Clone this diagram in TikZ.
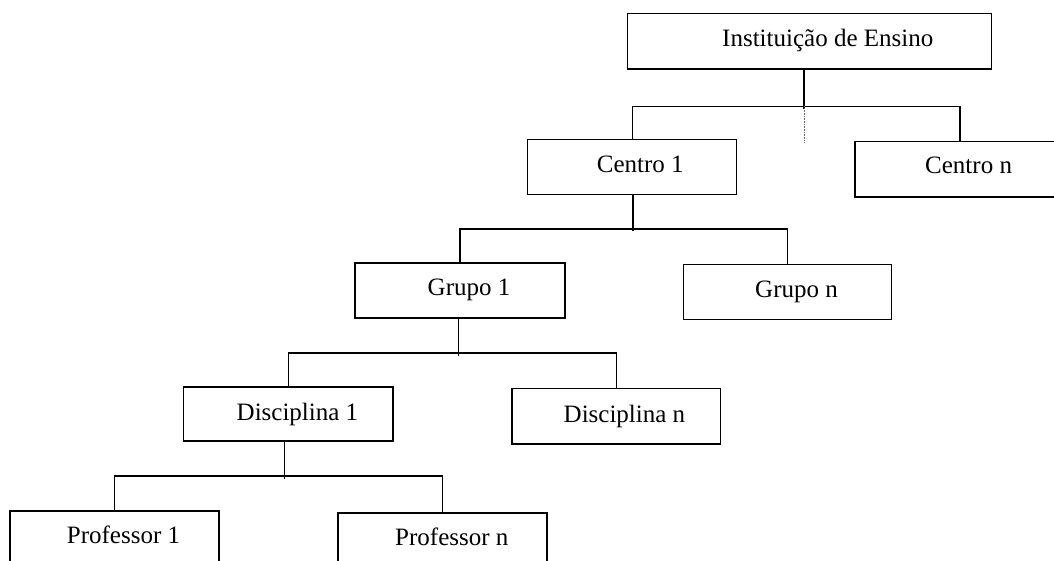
\documentclass[tikz,border=0pt]{standalone}
\usepackage{fontspec}
\setmainfont{Liberation Serif}
\begin{document}
\begin{tikzpicture}[x=1pt, y=-1pt,
  unit/.style={draw, line width=1.4pt, inner sep=0pt, outer sep=0pt, anchor=north west},
  lbl/.style={inner sep=0pt, anchor=base west, font=\fontsize{25}{30}\selectfont},
  link/.style={line width=1.4pt},
  hint/.style={densely dotted, line width=0.6pt, black!55}]
  % page frame
  \clip (0,0) rectangle (1054,561);
  \fill[white] (0,0) rectangle (1054,561);

  % boxes of the hierarchy
  \node[unit, minimum width=364pt, minimum height=55.7pt] (inst) at (627.7,13.3) {};
  \node[unit, minimum width=209pt, minimum height=54.8pt] (c1)   at (527.7,139.5) {};
  \node[unit, minimum width=210pt, minimum height=55.7pt] (cn)   at (855,141.5) {};
  \node[unit, minimum width=210pt, minimum height=55pt]   (g1)   at (355,263) {};
  \node[unit, minimum width=208.2pt, minimum height=55pt] (gn)   at (683.5,264.5) {};
  \node[unit, minimum width=209.5pt, minimum height=54pt] (d1)   at (183.5,387) {};
  \node[unit, minimum width=208.5pt, minimum height=55.5pt] (dn) at (512,388.5) {};
  \node[unit, minimum width=209pt, minimum height=60pt]   (p1)   at (10,511) {};
  \node[unit, minimum width=209pt, minimum height=60pt]   (pn)   at (338,513) {};

  % box texts
  \node[lbl] (inst-t) at (722,46.7)  {Instituição de Ensino};
  \node[lbl] (c1-t)   at (596.7,172.3) {Centro 1};
  \node[lbl] (cn-t)   at (925,174)   {Centro n};
  \node[lbl] (g1-t)   at (427.5,295) {Grupo 1};
  \node[lbl] (gn-t)   at (755,297.3) {Grupo n};
  \node[lbl] (d1-t)   at (236.5,420) {Disciplina 1};
  \node[lbl] (dn-t)   at (563.5,422.3) {Disciplina n};
  \node[lbl] (p1-t)   at (66.7,543.3) {Professor 1};
  \node[lbl] (pn-t)   at (395,545.7) {Professor n};

  % junction points on the horizontal bars
  \coordinate (b1) at (804,106.5);
  \coordinate (b2) at (633,229);
  \coordinate (b3) at (458.5,353);
  \coordinate (b4) at (284.5,476);

  % level 1: institution -> centres
  \draw[link] (b1 |- inst.south) -- (b1) -- ++(0,2.5);
  \draw[link] (c1.north) -- (c1.north |- b1) -- (cn.north |- b1) -- (cn.north);
  \draw[hint] (b1) -- ++(0,36.5);

  % level 2: centre -> groups
  \draw[link] (b2 |- c1.south) -- (b2) -- ++(0,2.5);
  \draw[link] (g1.north) -- (g1.north |- b2) -- (gn.north |- b2) -- (gn.north);

  % level 3: group -> disciplines
  \draw[link] (b3 |- g1.south) -- (b3) -- ++(0,2.5);
  \draw[link] (d1.north) -- (d1.north |- b3) -- (dn.north |- b3) -- (dn.north);

  % level 4: discipline -> teachers
  \draw[link] (b4 |- d1.south) -- (b4) -- ++(0,2.5);
  \draw[link] (p1.north) -- (p1.north |- b4) -- (pn.north |- b4) -- (pn.north);
\end{tikzpicture}
\end{document}
